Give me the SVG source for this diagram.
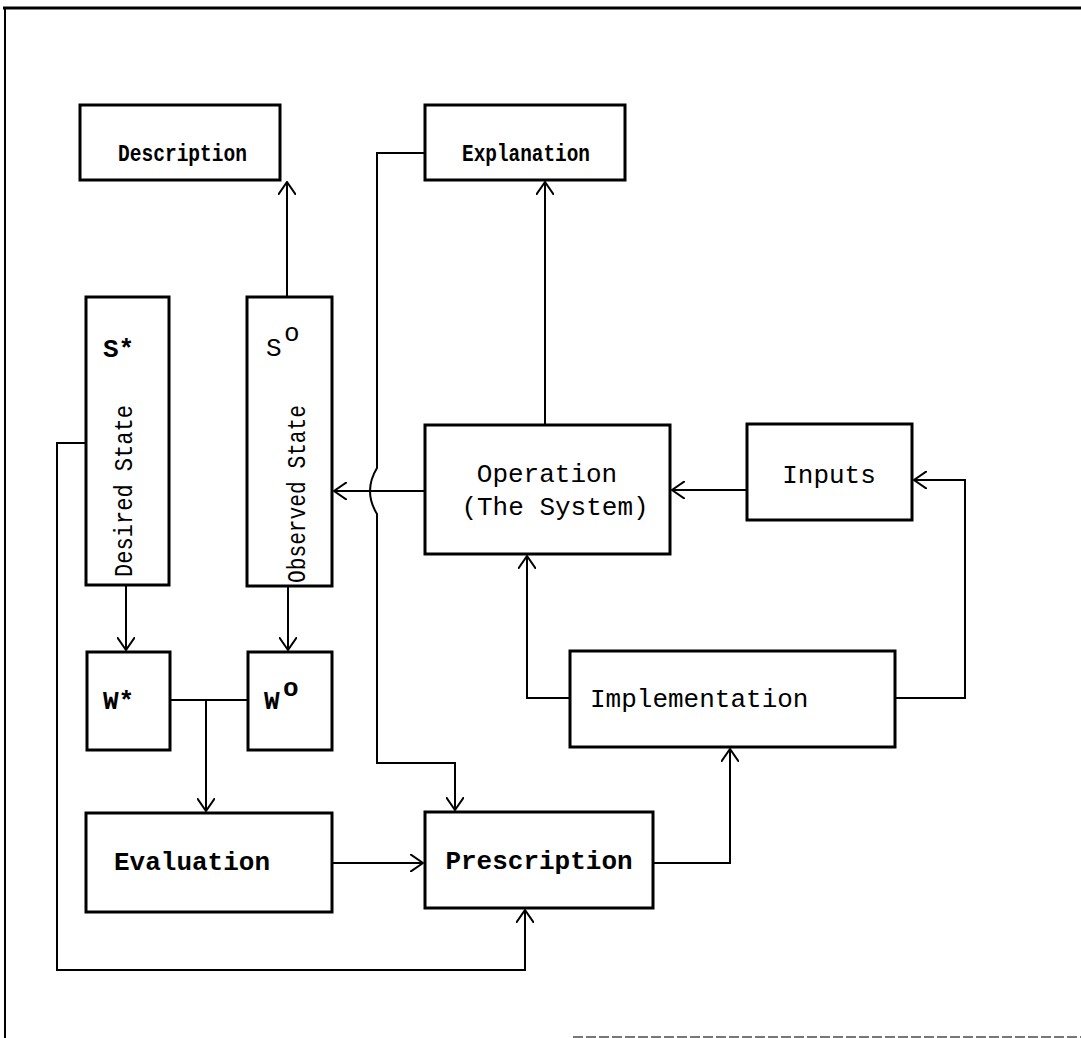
<svg xmlns="http://www.w3.org/2000/svg" width="1081" height="1038" viewBox="0 0 1081 1038">
<style>
.box{fill:#fff;stroke:#000;stroke-width:3}
.ln{fill:none;stroke:#000;stroke-width:2}
.lb{font-family:"Liberation Mono",monospace;font-size:26px;fill:#000}
.sm{font-family:"Liberation Mono",monospace;font-size:23px;font-weight:bold;fill:#000}
.vt{font-family:"Liberation Mono",monospace;font-size:25px;fill:#000}
</style>
<defs>
<marker id="arr" viewBox="0 0 14 18" refX="13" refY="9" markerWidth="14" markerHeight="18" orient="auto" markerUnits="userSpaceOnUse">
<path d="M0,0 L13,9 L0,18" fill="none" stroke="#000" stroke-width="2"/>
</marker>
</defs>
<rect width="1081" height="1038" fill="#fff"/>
<g id="frame">
<line x1="3" y1="8" x2="1081" y2="8" stroke="#000" stroke-width="3"/>
<line x1="5" y1="8" x2="5" y2="1038" stroke="#000" stroke-width="2"/>
<line x1="573" y1="1037" x2="1081" y2="1037" stroke="#777" stroke-width="2" stroke-dasharray="10 3"/>
</g>
<g id="connectors">
<path class="ln" d="M287,297 V182" marker-end="url(#arr)"/>
<path class="ln" d="M545,425 V182" marker-end="url(#arr)"/>
<path class="ln" d="M425,153 H377 V468 Q363,491 377,514 V763 H455 V810" marker-end="url(#arr)"/>
<path class="ln" d="M425,491 H334" stroke-width="3" marker-end="url(#arr)"/>
<path class="ln" d="M747,490 H672" stroke-width="3" marker-end="url(#arr)"/>
<path class="ln" d="M126,585 V650" marker-end="url(#arr)"/>
<path class="ln" d="M288,586 V650" marker-end="url(#arr)"/>
<path class="ln" d="M170,700 H248"/>
<path class="ln" d="M206,700 V811" marker-end="url(#arr)"/>
<path class="ln" d="M332,863 H423" marker-end="url(#arr)"/>
<path class="ln" d="M653,863 H730 V749" marker-end="url(#arr)"/>
<path class="ln" d="M570,698 H527 V556" marker-end="url(#arr)"/>
<path class="ln" d="M895,698 H965 V480 H914" marker-end="url(#arr)"/>
<path class="ln" d="M86,443 H57 V970 H525 V910" marker-end="url(#arr)"/>
</g>
<g id="description">
<rect class="box" x="80" y="105" width="200" height="75"/>
<text class="sm" x="118" y="161" textLength="129" lengthAdjust="spacingAndGlyphs">Description</text>
</g>
<g id="explanation">
<rect class="box" x="425" y="105" width="200" height="75"/>
<text class="sm" x="462" y="161" textLength="128" lengthAdjust="spacingAndGlyphs">Explanation</text>
</g>
<g id="desired-state">
<rect class="box" x="86" y="297" width="83" height="288"/>
<text class="lb" x="103" y="357" font-weight="bold" font-size="25">S*</text>
<text class="vt" transform="translate(132,491) rotate(-90)" text-anchor="middle" textLength="172" lengthAdjust="spacingAndGlyphs">Desired State</text>
</g>
<g id="observed-state">
<rect class="box" x="247" y="297" width="85" height="289"/>
<text class="lb" x="266" y="356" font-size="25">S</text>
<text class="lb" x="284" y="341" font-size="20">o</text>
<text class="vt" transform="translate(305,494) rotate(-90)" text-anchor="middle" textLength="178" lengthAdjust="spacingAndGlyphs">Observed State</text>
</g>
<g id="operation">
<rect class="box" x="425" y="425" width="245" height="129"/>
<text class="lb" x="547" y="482" text-anchor="middle">Operation</text>
<text class="lb" x="555" y="515" text-anchor="middle">(The System)</text>
</g>
<g id="inputs">
<rect class="box" x="747" y="424" width="165" height="96"/>
<text class="lb" x="829" y="483" text-anchor="middle">Inputs</text>
</g>
<g id="w-star">
<rect class="box" x="87" y="652" width="83" height="98"/>
<text class="lb" x="103" y="709" font-weight="bold">W*</text>
</g>
<g id="w-obs">
<rect class="box" x="248" y="652" width="84" height="98"/>
<text class="lb" x="264" y="709" font-weight="bold">W</text>
<text class="lb" x="283" y="696" font-weight="bold" font-size="21">o</text>
</g>
<g id="implementation">
<rect class="box" x="570" y="651" width="325" height="96"/>
<text class="lb" x="590" y="707">Implementation</text>
</g>
<g id="evaluation">
<rect class="box" x="86" y="813" width="246" height="99"/>
<text class="lb" x="192" y="870" text-anchor="middle" font-weight="bold">Evaluation</text>
</g>
<g id="prescription">
<rect class="box" x="425" y="812" width="228" height="96"/>
<text class="lb" x="539" y="869" text-anchor="middle" font-weight="bold">Prescription</text>
</g>
</svg>
